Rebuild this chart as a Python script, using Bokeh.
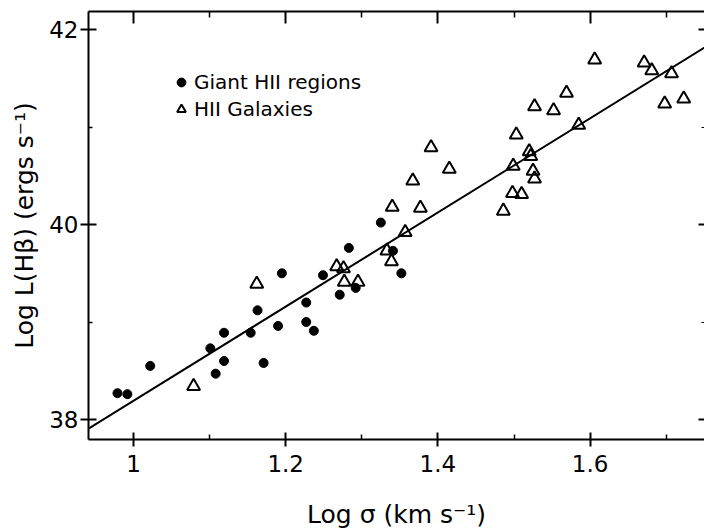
from bokeh.plotting import figure
from bokeh.models import (Range1d, LinearAxis, FixedTicker, CustomJSTickFormatter,
                          Legend, LegendItem)
from bokeh.embed import file_html
from bokeh.resources import INLINE

# ---- data ----
giant_x = [0.979, 0.992, 1.022, 1.101, 1.119, 1.119, 1.108, 1.154, 1.171, 1.163, 1.190,
           1.195, 1.227, 1.227, 1.237, 1.249, 1.283, 1.271, 1.292, 1.325, 1.341, 1.352]
giant_y = [38.27, 38.26, 38.55, 38.73, 38.89, 38.60, 38.47, 38.89, 38.58, 39.12, 38.96,
           39.50, 39.20, 39.00, 38.91, 39.48, 39.76, 39.28, 39.35, 40.02, 39.73, 39.50]

gal_x = [1.079, 1.162, 1.267, 1.276, 1.277, 1.295, 1.333, 1.339, 1.357, 1.340, 1.377,
         1.367, 1.391, 1.415, 1.486, 1.498, 1.510, 1.499, 1.503, 1.520, 1.522, 1.525,
         1.527, 1.527, 1.552, 1.569, 1.585, 1.606, 1.671, 1.681, 1.707, 1.698, 1.723]
gal_y = [38.34, 39.39, 39.57, 39.55, 39.41, 39.41, 39.73, 39.62, 39.92, 40.18, 40.17,
         40.45, 40.79, 40.57, 40.14, 40.32, 40.31, 40.60, 40.92, 40.75, 40.70, 40.55,
         40.47, 41.21, 41.17, 41.35, 41.02, 41.69, 41.66, 41.58, 41.55, 41.24, 41.29]

fit_slope = 4.83
fit_intercept = 33.362

x_ticks = [1.0, 1.2, 1.4, 1.6]
x_minor = [1.1, 1.3, 1.5, 1.7]
y_ticks = [38, 40, 42]
y_minor = [39, 41]

x_lo, x_hi = 0.9409, 1.7503
y_lo, y_hi = 37.795, 42.185

FONT = "DejaVu Sans"

p = figure(width=704, height=532, x_range=Range1d(x_lo, x_hi), y_range=Range1d(y_lo, y_hi),
           output_backend="svg", toolbar_location=None,
           min_border_left=88, min_border_right=0, min_border_top=11, min_border_bottom=93)
p.grid.visible = False
p.outline_line_color = None
p.background_fill_color = "white"

fmt_x = CustomJSTickFormatter(code="return Math.abs(tick-1) < 1e-9 ? '1' : tick.toFixed(1);")
empty = CustomJSTickFormatter(code="return '';")

xa = p.xaxis[0]
xa.ticker = FixedTicker(ticks=x_ticks, minor_ticks=x_minor)
xa.formatter = fmt_x
ya = p.yaxis[0]
ya.ticker = FixedTicker(ticks=y_ticks, minor_ticks=y_minor)

for ax in (xa, ya):
    ax.axis_line_width = 2
    ax.major_tick_line_width = 2
    ax.minor_tick_line_width = 1.5
    ax.major_label_text_font = FONT
    ax.major_label_text_font_size = "23px"
    ax.major_label_text_color = "black"
    ax.axis_label_text_font = FONT
    ax.axis_label_text_font_size = "25px"
    ax.axis_label_text_font_style = "normal"
    ax.axis_label_text_color = "black"
    ax.minor_tick_out = 0

xa.major_tick_in = 7
xa.major_tick_out = 7
xa.minor_tick_in = 5
xa.major_label_standoff = 8
xa.axis_label = "Log σ (km s⁻¹)"
xa.axis_label_standoff = 25

ya.major_tick_in = 8
ya.major_tick_out = 8
ya.minor_tick_in = 4
ya.major_label_standoff = 2
ya.axis_label = "Log L(Hβ) (ergs s⁻¹)"
ya.axis_label_standoff = 7

top = LinearAxis(ticker=FixedTicker(ticks=x_ticks, minor_ticks=x_minor), formatter=empty,
                 axis_line_width=2, major_tick_in=12, major_tick_out=0,
                 minor_tick_in=6, minor_tick_out=0, major_tick_line_width=2,
                 minor_tick_line_width=1.5, major_label_standoff=0,
                 major_label_text_font_size="0px")
p.add_layout(top, "above")

right = LinearAxis(ticker=FixedTicker(ticks=y_ticks, minor_ticks=y_minor), formatter=empty,
                   axis_line_color=None, major_tick_in=6, major_tick_out=0,
                   minor_tick_in=3, minor_tick_out=0, major_tick_line_width=2,
                   minor_tick_line_width=1, major_label_standoff=0,
                   major_label_text_font_size="0px")
p.add_layout(right, "right")

fit_x = [x_lo, x_hi]
fit_y = [fit_intercept + fit_slope * v for v in fit_x]
p.line(fit_x, fit_y, line_color="black", line_width=2)

r1 = p.scatter(giant_x, giant_y, marker="circle", size=9, fill_color="black", line_color="black")
r2 = p.scatter(gal_x, gal_y, marker="triangle", size=13, fill_color=None,
               line_color="black", line_width=2)

legend = Legend(items=[LegendItem(label="Giant HII regions", renderers=[r1]),
                       LegendItem(label="HII Galaxies", renderers=[r2])],
                location=(82, 318), border_line_color=None, background_fill_alpha=0,
                padding=0, margin=0, spacing=3, glyph_width=22, glyph_height=22,
                label_standoff=2, label_text_font=FONT, label_text_font_size="20px",
                label_text_color="black", label_height=22)
p.add_layout(legend)

open("out.html", "w").write(file_html(p, INLINE))
